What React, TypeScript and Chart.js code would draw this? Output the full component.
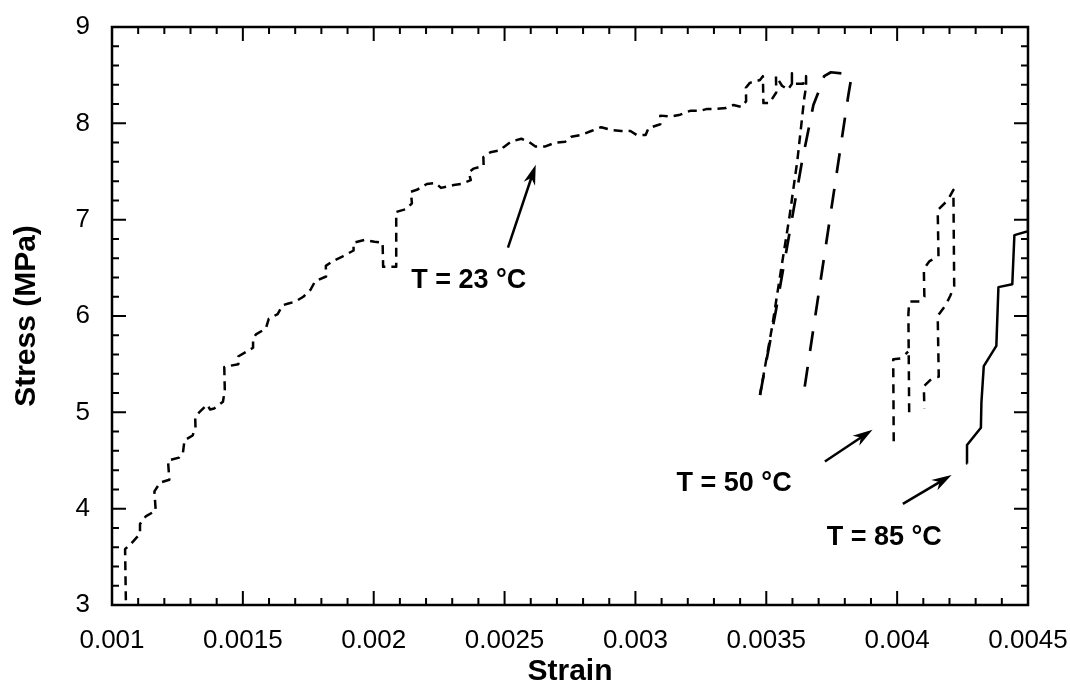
import React, { useEffect, useRef } from "react";
import { Chart, registerables } from "chart.js";

Chart.register(...registerables);

// ---- T = 23 °C : loading curve (short dashes) ----
const strain23 = [
  0.001053, 0.00105, 0.001074, 0.001107, 0.001107, 0.001129, 0.001167, 0.001162, 0.001184, 0.001219,
  0.001214, 0.001256, 0.001271, 0.001277, 0.001308, 0.001319, 0.001318, 0.001333, 0.001363, 0.001375,
  0.00139, 0.001424, 0.001431, 0.001429, 0.001445, 0.001483, 0.001482, 0.001539, 0.001539, 0.00155,
  0.001588, 0.001599, 0.001633, 0.001651, 0.001674, 0.001701, 0.001731, 0.001758, 0.001776, 0.001818,
  0.001817, 0.001844, 0.001882, 0.001923, 0.001923, 0.001965, 0.002003, 0.002034, 0.002036, 0.002086,
  0.002086, 0.002124, 0.002146, 0.002142, 0.002165, 0.002203, 0.002237, 0.002257, 0.002306, 0.002333,
  0.002371, 0.002363, 0.002382, 0.00242, 0.002419, 0.002446, 0.002484, 0.002495, 0.002525, 0.002564,
  0.002591, 0.002618, 0.002656, 0.002694, 0.002732, 0.002755, 0.002793, 0.002831, 0.002869, 0.002908,
  0.002946, 0.002981, 0.003004, 0.003039, 0.00305, 0.003095, 0.003095, 0.003137, 0.003171, 0.003209,
  0.003248, 0.003274, 0.003309, 0.003347, 0.003374, 0.003405, 0.003423, 0.003422, 0.003437, 0.003476,
  0.003487, 0.003489, 0.003512, 0.003538, 0.003537, 0.00356, 0.003583, 0.003598, 0.003598, 0.003598,
  0.003641, 0.003652, 0.003652, 0.003645, 0.003619, 0.003588, 0.003554, 0.003523, 0.003476,
];
const stress23 = [
  3.05, 3.58, 3.64, 3.74, 3.84, 3.92, 3.98, 4.18, 4.27, 4.3,
  4.5, 4.53, 4.58, 4.71, 4.76, 4.84, 4.94, 5.0, 5.08, 5.03,
  5.04, 5.11, 5.23, 5.47, 5.48, 5.5, 5.58, 5.67, 5.76, 5.81,
  5.87, 5.97, 6.02, 6.11, 6.13, 6.15, 6.2, 6.27, 6.36, 6.41,
  6.52, 6.57, 6.62, 6.68, 6.76, 6.79, 6.77, 6.76, 6.51, 6.51,
  7.08, 7.11, 7.17, 7.29, 7.31, 7.37, 7.38, 7.33, 7.36, 7.37,
  7.41, 7.49, 7.53, 7.56, 7.65, 7.7, 7.72, 7.75, 7.81, 7.84,
  7.81, 7.76, 7.76, 7.8, 7.81, 7.86, 7.88, 7.92, 7.96, 7.93,
  7.92, 7.92, 7.88, 7.88, 7.95, 7.99, 8.08, 8.07, 8.09, 8.13,
  8.13, 8.15, 8.15, 8.16, 8.19, 8.17, 8.23, 8.37, 8.42, 8.45,
  8.49, 8.21, 8.21, 8.32, 8.49, 8.39, 8.35, 8.41, 8.52, 8.41,
  8.41, 8.49, 8.38, 8.26, 7.62, 7.02, 6.44, 5.9, 5.18,
];

// ---- T = 23 °C : reload / unload cycle (long dashes) ----
const strain23Cycle = [
  0.003476, 0.003537, 0.003635, 0.00368, 0.003706, 0.003721, 0.003747, 0.003816, 0.003824, 0.003814,
  0.003646, 0.003616,
];
const stress23Cycle = [5.18, 6.06, 7.58, 8.19, 8.37, 8.49, 8.53, 8.51, 8.46, 8.3, 5.25, 5.2];

// ---- T = 50 °C (short dashes, null = break) ----
const strain50 = [
  0.003987, 0.003985, 0.004016, 0.004042, 0.004042, 0.004046, 0.004043, 0.004046, 0.004089, 0.004104,
  0.004102, 0.004124, 0.004158, 0.004155, 0.004193, 0.004215, 0.004218, 0.004203, 0.004185, 0.004155,
  0.004159, 0.004136, 0.004102, 0.004104,
];
const stress50 = [
  4.7, 5.55, 5.56, 5.63, null, 5.0, 6.02, 6.15, 6.15, 6.2,
  6.49, 6.57, 6.62, 7.1, 7.2, 7.31, 6.31, 6.21, 6.11, 6.0,
  5.37, 5.36, 5.27, 5.04,
];

// ---- T = 85 °C (solid) ----
const strain85 = [0.004268, 0.004267, 0.00432, 0.004322, 0.004331, 0.004379, 0.004387, 0.00444, 0.004448, 0.0045, 0.0045];
const stress85 = [4.47, 4.66, 4.84, 5.1, 5.48, 5.69, 6.3, 6.33, 6.84, 6.88, 7.22];

// ---- axes ----
const xMin = 0.001;
const xMax = 0.0045;
const yMin = 3;
const yMax = 9;
const xTickValues = [0.001, 0.0015, 0.002, 0.0025, 0.003, 0.0035, 0.004, 0.0045];
const xTickLabels = ["0.001", "0.0015", "0.002", "0.0025", "0.003", "0.0035", "0.004", "0.0045"];
const yTickValues = [3, 4, 5, 6, 7, 8, 9];
const yTickLabels = ["3", "4", "5", "6", "7", "8", "9"];
const xMinorStep = 0.0001;
const yMinorStep = 0.2;

// ---- annotations (data coordinates) ----
const annotationTexts = ["T = 23 \u00b0C", "T = 50 \u00b0C", "T = 85 \u00b0C"];
const annotationStrain = [0.002363, 0.003377, 0.003951];
const annotationStress = [6.37, 4.26, 3.7];
const arrowTailStrain = [0.002513, 0.003724, 0.004022];
const arrowTailStress = [6.71, 4.49, 4.05];
const arrowHeadStrain = [0.002619, 0.003906, 0.004208];
const arrowHeadStress = [7.57, 4.82, 4.35];

const FONT = "'Liberation Sans', Arial, Helvetica, sans-serif";

function zip(xs: number[], ys: (number | null)[]) {
  return xs.map((x, i) => ({ x, y: ys[i] }));
}

const framePlugin = {
  id: "frameTicks",
  afterDatasetsDraw(chart: any) {
    const { ctx, chartArea, scales } = chart;
    const { left, right, top, bottom } = chartArea;
    const xs = scales.x;
    const ys = scales.y;
    ctx.save();
    ctx.strokeStyle = "#000";
    ctx.lineWidth = 2.5;
    ctx.strokeRect(left, top, right - left, bottom - top);
    ctx.lineWidth = 2;
    ctx.beginPath();
    const nx = Math.round((xMax - xMin) / xMinorStep);
    for (let i = 1; i < nx; i++) {
      const px = xs.getPixelForValue(xMin + i * xMinorStep);
      const len = i % 5 === 0 ? 14 : 7;
      ctx.moveTo(px, bottom);
      ctx.lineTo(px, bottom - len);
      ctx.moveTo(px, top);
      ctx.lineTo(px, top + len);
    }
    const ny = Math.round((yMax - yMin) / yMinorStep);
    for (let i = 1; i < ny; i++) {
      const py = ys.getPixelForValue(yMin + i * yMinorStep);
      const len = i % 5 === 0 ? 14 : 7;
      ctx.moveTo(left, py);
      ctx.lineTo(left + len, py);
      ctx.moveTo(right, py);
      ctx.lineTo(right - len, py);
    }
    ctx.stroke();
    ctx.restore();
  },
};

const annotationPlugin = {
  id: "arrowsText",
  afterDraw(chart: any) {
    const { ctx, scales } = chart;
    const xs = scales.x;
    const ys = scales.y;
    ctx.save();
    ctx.fillStyle = "#000";
    ctx.strokeStyle = "#000";
    ctx.font = `bold 27px ${FONT}`;
    ctx.textAlign = "center";
    ctx.textBaseline = "middle";
    annotationTexts.forEach((t, i) => {
      ctx.fillText(t, xs.getPixelForValue(annotationStrain[i]), ys.getPixelForValue(annotationStress[i]));
    });
    ctx.lineWidth = 2.5;
    arrowTailStrain.forEach((_, i) => {
      const x0 = xs.getPixelForValue(arrowTailStrain[i]);
      const y0 = ys.getPixelForValue(arrowTailStress[i]);
      const x1 = xs.getPixelForValue(arrowHeadStrain[i]);
      const y1 = ys.getPixelForValue(arrowHeadStress[i]);
      const ang = Math.atan2(y1 - y0, x1 - x0);
      const L = 20;
      const W = 6;
      const bx = x1 - L * Math.cos(ang);
      const by = y1 - L * Math.sin(ang);
      ctx.beginPath();
      ctx.moveTo(x0, y0);
      ctx.lineTo(x1 - 10 * Math.cos(ang), y1 - 10 * Math.sin(ang));
      ctx.stroke();
      ctx.beginPath();
      ctx.moveTo(x1, y1);
      ctx.lineTo(bx - W * Math.sin(ang), by + W * Math.cos(ang));
      ctx.lineTo(x1 - 14 * Math.cos(ang), y1 - 14 * Math.sin(ang));
      ctx.lineTo(bx + W * Math.sin(ang), by - W * Math.cos(ang));
      ctx.closePath();
      ctx.fill();
    });
    ctx.restore();
  },
};

export default function App() {
  const ref = useRef<HTMLCanvasElement>(null);
  useEffect(() => {
    if (!ref.current) return;
    const common = {
      showLine: true,
      fill: false,
      pointRadius: 0,
      pointHoverRadius: 0,
      tension: 0,
      borderColor: "#000",
      backgroundColor: "#000",
      spanGaps: false,
      borderJoinStyle: "round" as const,
    };
    const chart = new Chart(ref.current, {
      type: "scatter",
      data: {
        datasets: [
          { ...common, label: "T = 23 °C", data: zip(strain23, stress23), borderWidth: 2.5, borderDash: [9, 6] },
          { ...common, label: "T = 23 °C cycle", data: zip(strain23Cycle, stress23Cycle), borderWidth: 2.7, borderDash: [20, 16] },
          { ...common, label: "T = 50 °C", data: zip(strain50, stress50), borderWidth: 2.5, borderDash: [9, 7] },
          { ...common, label: "T = 85 °C", data: zip(strain85, stress85), borderWidth: 2.5 },
        ],
      },
      options: {
        responsive: false,
        devicePixelRatio: 1,
        animation: false,
        events: [],
        layout: { padding: { top: 27, right: 42, bottom: 0, left: 0 } },
        plugins: { legend: { display: false }, tooltip: { enabled: false } },
        scales: {
          x: {
            type: "linear",
            min: xMin,
            max: xMax,
            grid: { display: false, drawTicks: false },
            border: { display: false },
            afterBuildTicks: (scale: any) => {
              scale.ticks = xTickValues.map((v) => ({ value: v }));
            },
            afterFit: (scale: any) => {
              scale.height = 95;
              scale.paddingLeft = 0;
              scale.paddingRight = 0;
              scale.paddingTop = 0;
              scale.paddingBottom = 0;
            },
            ticks: {
              autoSkip: false,
              maxRotation: 0,
              padding: 20,
              color: "#000",
              font: { family: FONT, size: 26 },
              callback: (_v: any, i: number) => xTickLabels[i],
            },
            title: {
              display: true,
              text: "Strain",
              color: "#000",
              font: { family: FONT, size: 30, weight: "bold" },
              padding: { top: 0, bottom: 10 },
            },
          },
          y: {
            type: "linear",
            min: yMin,
            max: yMax,
            grid: { display: false, drawTicks: false },
            border: { display: false },
            afterBuildTicks: (scale: any) => {
              scale.ticks = yTickValues.map((v) => ({ value: v }));
            },
            afterFit: (scale: any) => {
              scale.width = 112;
              scale.paddingLeft = 0;
              scale.paddingRight = 0;
              scale.paddingTop = 0;
              scale.paddingBottom = 0;
            },
            ticks: {
              autoSkip: false,
              padding: 22,
              color: "#000",
              font: { family: FONT, size: 26 },
              callback: (_v: any, i: number) => yTickLabels[i],
            },
            title: {
              display: true,
              text: "Stress (MPa)",
              color: "#000",
              font: { family: FONT, size: 30, weight: "bold" },
              padding: { top: 9, bottom: 0 },
            },
          },
        },
      },
      plugins: [framePlugin, annotationPlugin],
    } as any);
    return () => chart.destroy();
  }, []);
  return (
    <div style={{ position: "fixed", left: 0, top: 0, width: 1070, height: 700, background: "#fff" }}>
      <canvas ref={ref} width={1070} height={700} style={{ display: "block" }} />
    </div>
  );
}
